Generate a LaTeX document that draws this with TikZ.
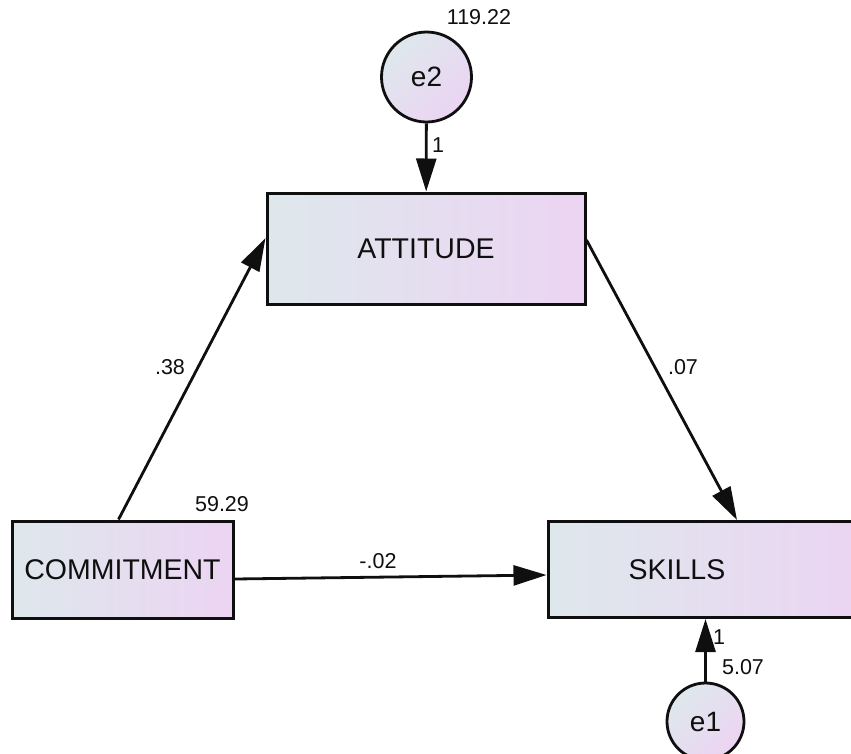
\documentclass[tikz,border=0pt]{standalone}
\usepackage{fontspec}
\setmainfont{Liberation Sans}
\usetikzlibrary{arrows.meta}
\definecolor{gA}{RGB}{222,232,236}
\definecolor{gB}{RGB}{236,212,243}
\definecolor{ink}{RGB}{15,15,15}
\begin{document}
\begin{tikzpicture}[x=1pt,y=-1pt,
  var/.style={draw=ink, line width=3pt, rectangle, left color=gA, right color=gB,
    font=\fontsize{28.5}{31}\selectfont, text=ink, inner sep=0pt},
  err/.style={draw=ink, line width=2.8pt, circle, top color=gA, bottom color=gB, shading angle=45,
    font=\fontsize{28}{31}\selectfont, text=ink, inner sep=0pt},
  conn/.style={draw=ink, line width=2.8pt, -{Triangle[length=33pt,width=20pt]}},
  lab/.style={font=\fontsize{21.5}{24}\selectfont, text=ink, inner sep=0pt}
]
\useasboundingbox (0,0) rectangle (851,753);
\clip (0,0) rectangle (851,753);

\node[var, minimum width=318pt, minimum height=111pt] (ATT) at (426,248.5) {ATTITUDE};
\node[var, minimum width=221pt, minimum height=97pt] (COM) at (122.5,569.5) {COMMITMENT};
\node[var, minimum width=322pt, minimum height=96pt] (SK) at (709,569.5) {SKILLS\kern64pt};
\node[err, minimum size=90pt] (E2) at (426.5,77) {e2};
\node[err, minimum size=77pt] (E1) at (705.5,721.5) {e1};

\draw[conn] (E2) -- (ATT);
\draw[conn] ([xshift=-4pt]COM.north) -- ([yshift=10.5pt]ATT.west);
\draw[conn] ([yshift=8.5pt]ATT.east) -- ([xshift=28pt]SK.north);
\draw[conn] ([yshift=-9.5pt]COM.east) -- ([yshift=-5.5pt]SK.west);
\draw[conn] (E1) -- (E1 |- SK.south);

\node[lab] (v2) at (479,17) {119.22};
\node[lab] (v1) at (222,504) {59.29};
\node[lab] (v3) at (743,667) {5.07};
\node[lab] (l1) at (438,145) {1};
\node[lab] (l2) at (719,637) {1};
\node[lab] (l3) at (170,367) {.38};
\node[lab] (l4) at (683,367) {.07};
\node[lab] (l5) at (378,561) {-.02};
\end{tikzpicture}
\end{document}
